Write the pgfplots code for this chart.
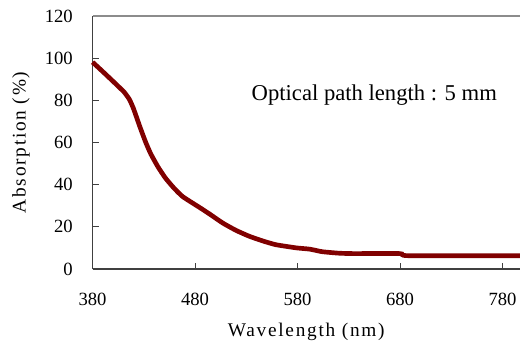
\documentclass[border=0pt]{standalone}
\usepackage{fontspec}
\setmainfont{Liberation Serif}
\usepackage{pgfplots}
\pgfplotsset{compat=1.18}
\definecolor{curve}{RGB}{128,0,0}
\definecolor{axisdark}{RGB}{64,64,64}
\definecolor{axislight}{RGB}{140,140,140}

\pgfplotstableread{
wl   abs
380  98.1
390  93.6
400  89.0
406  86.2
411  83.8
416  80.4
420  76.0
426  67.7
432  59.9
437  54.4
444  48.3
451  43.2
459  38.6
468  34.3
485  29.0
495  25.8
507  21.8
520  18.3
533  15.5
546  13.3
559  11.5
579  10.0
592  9.4
604  8.2
620  7.5
634  7.3
680  7.3
688  6.3
797  6.3
}\absdata

\begin{document}
\fontsize{14}{16}\selectfont
\begin{tikzpicture}
\begin{axis}[
  name=main,
  scale only axis,
  width=321pt, height=190pt,
  xmin=380, xmax=797, ymin=0, ymax=120,
  axis lines=left,
  axis line style={-, axisdark, line width=1.2pt},
  tick align=inside,
  major tick length=4.5pt,
  tick style={axisdark, line width=0.6pt},
  xtick={380,480,580,680,780},
  ytick={0,20,...,120},
  /pgf/number format/assume math mode=true,
  xticklabel style={font=\fontsize{14}{16}\selectfont, yshift=-13.5pt},
  yticklabel style={font=\fontsize{14}{16}\selectfont, xshift=-10pt},
  xlabel={\addfontfeatures{LetterSpace=9}Wavelength (nm)},
  ylabel={\addfontfeatures{LetterSpace=9}Absorption (\%)},
  x label style={at={(axis description cs:0.5,0)}, anchor=center, yshift=-47.6pt, font=\fontsize{14.5}{16}\selectfont},
  y label style={at={(axis description cs:0,0.5)}, anchor=center, yshift=53.8pt, font=\fontsize{14.5}{16}\selectfont},
  clip=false,
]
\addplot[curve, line width=3.5pt, smooth, tension=0.3] table[x=wl, y=abs] {\absdata};
\draw[axislight, line width=1.2pt] (rel axis cs:0,1) -- (rel axis cs:1,1);
\node[anchor=west, inner sep=0pt, font=\fontsize{17}{19}\selectfont] at (axis cs:535,82.5) {Optical path length : 5 mm};
\end{axis}
\pgfresetboundingbox
\path[use as bounding box] ([shift={(-69.5pt,-58.9pt)}]main.south west) rectangle ([shift={(0pt,12pt)}]main.north east);
\end{tikzpicture}
\end{document}
